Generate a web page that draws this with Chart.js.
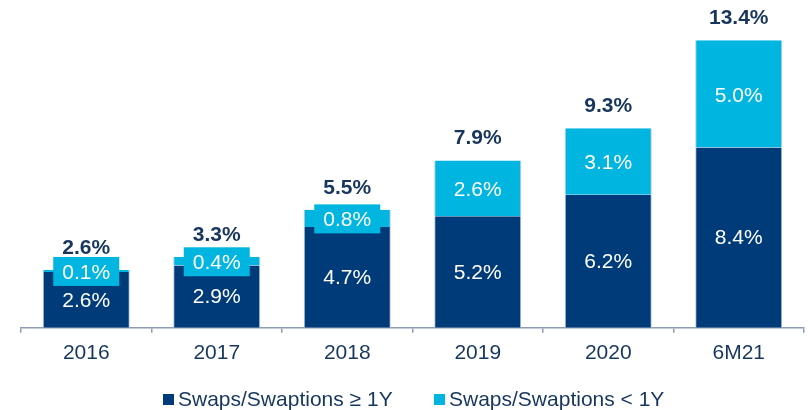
<!DOCTYPE html>
<html>
<head>
<meta charset="utf-8">
<script src="https://cdn.jsdelivr.net/npm/chart.js@4.4.0/dist/chart.umd.min.js"></script>
<style>
  html, body { margin: 0; padding: 0; background: #ffffff; }
  #wrap { width: 808px; height: 410px; position: relative; }
</style>
</head>
<body>
<div id="wrap"><canvas id="c" width="808" height="410"></canvas></div>
<script>
const categories = ['2016', '2017', '2018', '2019', '2020', '6M21'];
const longSwaps = [2.6, 2.9, 4.7, 5.2, 6.2, 8.4];
const shortSwaps = [0.1, 0.4, 0.8, 2.6, 3.1, 5.0];
const totals = ['2.6%', '3.3%', '5.5%', '7.9%', '9.3%', '13.4%'];
const seriesNames = ['Swaps/Swaptions \u2265 1Y', 'Swaps/Swaptions < 1Y'];

const DARK = '#003b79';
const CYAN = '#00b5e0';
const NAVY = '#17365d';
const EDGE = '#b9c8dc';
const FONT = '"Liberation Sans", Arial, sans-serif';

const labelPlugin = {
  id: 'labels',
  afterDatasetsDraw(chart) {
    const ctx = chart.ctx;
    ctx.save();
    ctx.textAlign = 'center';
    ctx.textBaseline = 'middle';
    const m0 = chart.getDatasetMeta(0);
    const m1 = chart.getDatasetMeta(1);
    categories.forEach((c, i) => {
      const b0 = m0.data[i], b1 = m1.data[i];
      ctx.font = '21px ' + FONT;
      ctx.fillStyle = '#ffffff';
      ctx.fillText(longSwaps[i].toFixed(1) + '%', b0.x, (b0.y + b0.base) / 2 + 1);
      const cy = (b1.y + b1.base) / 2;
      const h = Math.abs(b1.base - b1.y);
      if (h < 26) {
        ctx.fillStyle = CYAN;
        ctx.fillRect(b1.x - 33, cy - 14, 66, 29);
      }
      ctx.fillStyle = '#ffffff';
      ctx.fillText(shortSwaps[i].toFixed(1) + '%', b1.x, cy + 2);
      ctx.font = 'bold 21px ' + FONT;
      ctx.fillStyle = NAVY;
      ctx.fillText(totals[i], b1.x, b1.y - 22);
    });
    ctx.font = '21px ' + FONT;
    ctx.textAlign = 'left';
    const items = [[seriesNames[0], DARK, 163], [seriesNames[1], CYAN, 434]];
    items.forEach(([t, col, x]) => {
      ctx.fillStyle = col;
      ctx.fillRect(x, 394, 11, 11);
      ctx.fillStyle = NAVY;
      ctx.fillText(t, x + 15, 400);
    });
    ctx.restore();
  }
};

new Chart(document.getElementById('c'), {
  type: 'bar',
  data: {
    labels: categories,
    datasets: [
      { label: seriesNames[0], data: longSwaps, backgroundColor: DARK,
        borderColor: EDGE, borderWidth: { left: 1, right: 1, top: 0, bottom: 0 },
        barPercentage: 0.667, categoryPercentage: 1 },
      { label: seriesNames[1], data: shortSwaps, backgroundColor: CYAN,
        borderColor: EDGE, borderWidth: { left: 1, right: 1, top: 0, bottom: 0 },
        barPercentage: 0.667, categoryPercentage: 1 }
    ]
  },
  options: {
    responsive: false,
    animation: false,
    layout: { padding: { left: 21, right: 4, top: 6, bottom: 36 } },
    plugins: { legend: { display: false }, tooltip: { enabled: false } },
    scales: {
      x: {
        stacked: true,
        offset: true,
        grid: { offset: true, drawOnChartArea: false, drawTicks: true, tickLength: 5, color: '#8c9cb5', lineWidth: 1.5 },
        border: { display: true, color: '#8c9cb5', width: 1.5 },
        ticks: { color: NAVY, font: { family: FONT, size: 21 }, padding: 8 }
      },
      y: {
        stacked: true,
        display: false,
        min: 0,
        max: 15
      }
    }
  },
  plugins: [labelPlugin]
});
</script>
</body>
</html>
